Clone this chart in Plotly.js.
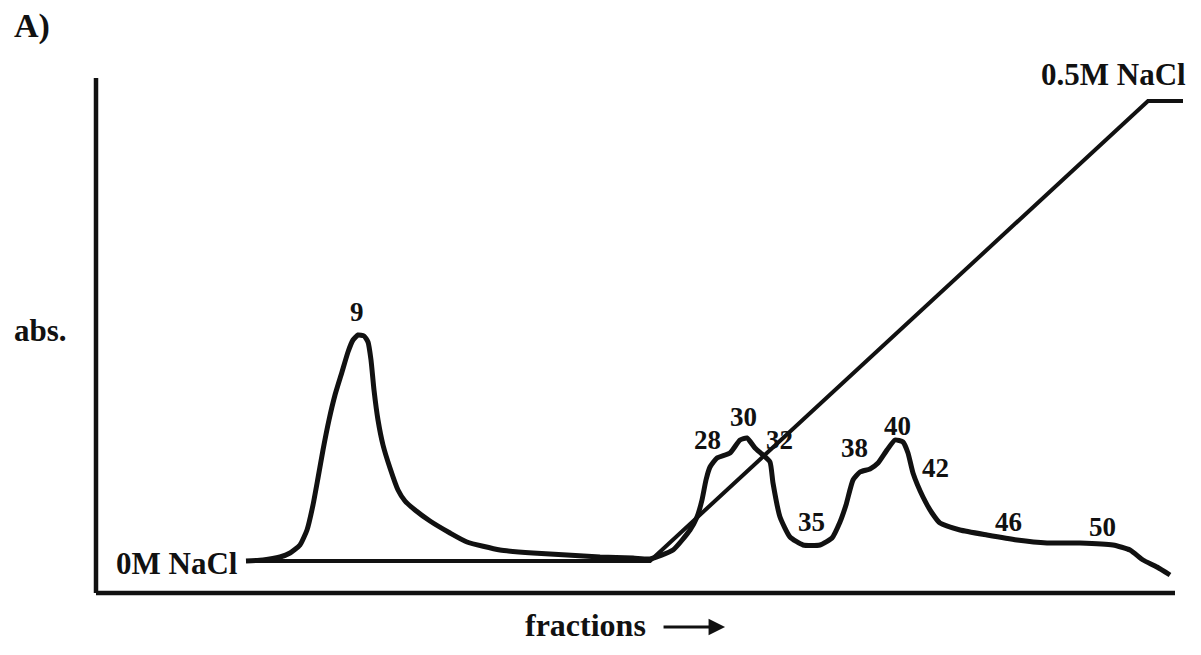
<!DOCTYPE html>
<html>
<head>
<meta charset="utf-8">
<script src="https://cdn.plot.ly/plotly-3.0.1.min.js"></script>
<style>html,body{margin:0;padding:0;background:#fff;}#chart{width:1201px;height:655px;}</style>
</head>
<body>
<div id="chart"></div>
<script>
// Absorbance trace (arbitrary elution units along x, absorbance units along y)
const absX = [150,167,184,194,204,211,217,222,227,233,239,246,252,257,262,268,272,275,278,282,287,294,302,309,319,334,354,371,404,437,471,504,537,554,577,594,601,606,610,614,621,634,644,651,659,667,674,677,684,694,707,724,736,744,750,757,764,774,782,791,799,807,812,817,827,836,844,864,891,921,951,984,1017,1034,1047,1061,1074];
const absY = [32,33,36,40,48,63,88,115,143,173,198,221,241,253,258,257,251,233,203,173,148,125,103,92,83,72,60,51,43,40,38,36,35,34,43,63,76,93,113,126,135,140,153,155,145,138,131,110,76,56,48,48,55,71,88,113,121,124,130,143,153,151,140,120,96,80,70,63,58,53,50,50,48,43,33,26,18];

// NaCl gradient (0M -> 0.5M)
const gradX = [150,554,1052,1087];
const gradY = [32,32,492,492];

// Fraction labels and their positions on the trace
const fracLabels = ['9','28','30','32','35','38','40','42','46','50'];
const fracX = [261,611,647,683,715,758,801,839,912,1006];
const fracY = [281,153,176,153,71,145,167,125,71,66];

// Axis extents
const axisXMax = 1079;
const axisYMax = 515;

const serif = 'Liberation Serif, Times New Roman, serif';
const ink = '#111111';

const traces = [
  {x: gradX, y: gradY, mode: 'lines', line: {color: ink, width: 4}, hoverinfo: 'skip'},
  {x: absX, y: absY, mode: 'lines', line: {color: ink, width: 5, shape: 'spline', smoothing: 0.5}, hoverinfo: 'skip'}
];

const annotations = fracLabels.map((t, i) => ({
  x: fracX[i], y: fracY[i], xref: 'x', yref: 'y', text: t, showarrow: false,
  xanchor: 'center', yanchor: 'middle',
  font: {family: serif, size: 27, color: ink, weight: 'bold'}
}));

annotations.push(
  {x: 81, y: 30, xref: 'x', yref: 'y', text: '0M NaCl', showarrow: false, xanchor: 'center', yanchor: 'middle',
   font: {family: serif, size: 31, color: ink, weight: 'bold'}},
  {x: 1017, y: 519, xref: 'x', yref: 'y', text: '0.5M NaCl', showarrow: false, xanchor: 'center', yanchor: 'middle',
   font: {family: serif, size: 31, color: ink, weight: 'bold'}},
  {x: -0.0432, y: 1.082, xref: 'paper', yref: 'paper', text: 'A)', showarrow: false, xanchor: 'center', yanchor: 'middle',
   font: {family: serif, size: 34, color: ink, weight: 'bold'}},
  {x: -0.036, y: 0.514, xref: 'paper', yref: 'paper', text: 'abs.', showarrow: false, xanchor: 'center', yanchor: 'middle',
   font: {family: serif, size: 31, color: ink, weight: 'bold'}},
  {x: 0.4554, y: -0.037, xref: 'paper', yref: 'paper', text: 'fractions', showarrow: false, xanchor: 'center', yanchor: 'middle',
   font: {family: serif, size: 32, color: ink, weight: 'bold'}},
  {x: 0.5806, y: -0.0411, xref: 'paper', yref: 'paper', text: '', showarrow: true,
   ax: -63, ay: 0, arrowhead: 2, arrowsize: 1.1, arrowwidth: 3, arrowcolor: ink, standoff: 0, startstandoff: 0}
);

const shapes = [
  {type: 'line', xref: 'x', yref: 'y', x0: 0, x1: 0, y0: 0, y1: axisYMax, line: {color: ink, width: 4.5}},
  {type: 'line', xref: 'x', yref: 'y', x0: 0, x1: axisXMax, y0: 0, y1: 0, line: {color: ink, width: 4.5}}
];

const layout = {
  width: 1201, height: 655,
  margin: {l: 80, r: 10, t: 70, b: 50},
  paper_bgcolor: '#ffffff', plot_bgcolor: '#ffffff',
  showlegend: false,
  xaxis: {range: [-16, 1095], visible: false, fixedrange: true},
  yaxis: {range: [-12, 523], visible: false, fixedrange: true},
  annotations: annotations,
  shapes: shapes
};

Plotly.newPlot('chart', traces, layout, {staticPlot: true, displayModeBar: false});
</script>
</body>
</html>
